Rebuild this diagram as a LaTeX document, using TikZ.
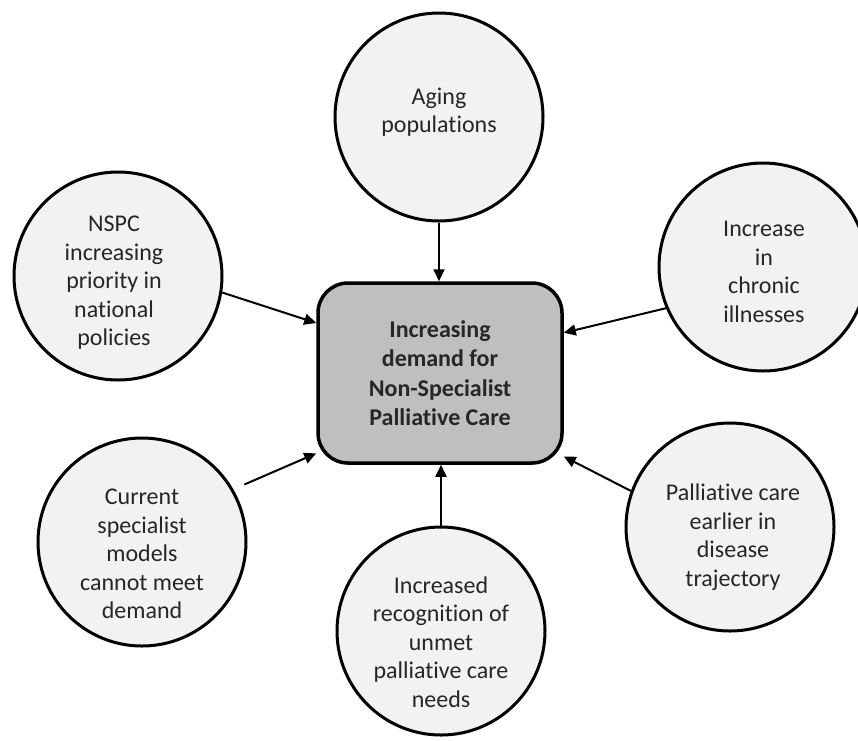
\documentclass[tikz,border=0pt]{standalone}
\usepackage{fontspec}
\setmainfont{Carlito}[RawFeature={-liga;-clig;-calt}]
\usetikzlibrary{arrows.meta}

\definecolor{bubblefill}{HTML}{F2F2F2}
\definecolor{corefill}{HTML}{BFBFBF}
\definecolor{inktext}{HTML}{262626}

\tikzset{
  bubble/.style={circle, draw=black, line width=3pt, fill=bubblefill,
    minimum size=208pt, inner sep=0pt},
  bubbletext/.style={align=center, text=inktext, inner sep=0pt,
    font=\fontsize{24}{28.5}\selectfont},
  corebox/.style={rectangle, rounded corners=30pt, draw=black, line width=3.5pt,
    fill=corefill, minimum width=244pt, minimum height=180pt, inner sep=0pt,
    align=center, text=inktext, font=\bfseries\fontsize{24}{29.5}\selectfont},
  feed/.style={line width=2pt, -{Triangle[length=12pt,width=11pt]}}
}

\begin{document}
\begin{tikzpicture}[x=1pt,y=-1pt]
  \useasboundingbox (0,0) rectangle (858,740);

  % central box
  \node[corebox] (core) at (440,373)
    {Increasing\\demand for\\Non-Specialist\\Palliative Care};

  % surrounding drivers
  \node[bubble] (aging) at (439,117) {};
  \node[bubbletext] (aging-t) at (439,112) {Aging\\populations};

  \node[bubble] (nspc) at (118,276) {};
  \node[bubbletext] (nspc-t) at (114,283) {NSPC\\increasing\\priority in\\national\\policies};

  \node[bubble] (chronic) at (763,267) {};
  \node[bubbletext] (chronic-t) at (764,272) {Increase\\in\\chronic\\illnesses};

  \node[bubble] (models) at (142,542) {};
  \node[bubbletext] (models-t) at (142,554) {Current\\specialist\\models\\cannot meet\\demand};

  \node[bubble] (unmet) at (441,631) {};
  \node[bubbletext] (unmet-t) at (441,642) {Increased\\recognition of\\unmet\\palliative care\\needs};

  \node[bubble] (earlier) at (730,527) {};
  \node[bubbletext] (earlier-t) at (733,537) {Palliative care\\earlier in\\disease\\trajectory};

  % connectors into the central box
  \draw[feed] (aging.south) -- (aging.south |- core.north);
  \draw[feed] (nspc.-9) -- (core.158);
  \draw[feed] (chronic.-157) -- (core.18);
  \draw[feed, shorten <=12pt] (models.30) -- (core.213);
  \draw[feed] (unmet.north) -- (unmet.north |- core.south);
  \draw[feed] (earlier.160) -- (core.-34);
\end{tikzpicture}
\end{document}
